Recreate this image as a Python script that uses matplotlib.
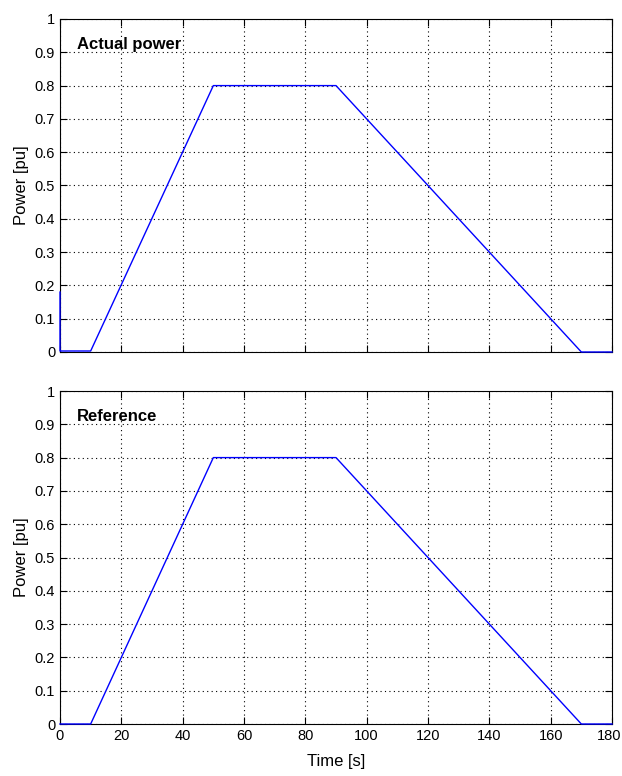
import matplotlib.pyplot as plt
import matplotlib.transforms as mtransforms

# data
t_actual = [0, 0, 0.3, 10, 50, 90, 170, 180]
p_actual = [0.18, 0.003, 0.003, 0.003, 0.8, 0.8, 0.0, 0.0]
t_ref = [0, 10, 50, 90, 170, 180]
p_ref = [0, 0, 0.8, 0.8, 0, 0]

xticks = list(range(0, 181, 20))
yticks = [i / 10 for i in range(11)]
yticklabels = ['0', '0.1', '0.2', '0.3', '0.4', '0.5', '0.6', '0.7', '0.8', '0.9', '1']

plt.rcParams['font.family'] = ['Liberation Sans', 'DejaVu Sans']

fig = plt.figure(figsize=(6.22, 7.76), dpi=100)
ax1 = fig.add_axes([60 / 622, 1 - 352 / 776, 552 / 622, 333 / 776])
ax2 = fig.add_axes([60 / 622, 1 - 724 / 776, 552 / 622, 333 / 776])

for ax, t, p, name in [(ax1, t_actual, p_actual, 'Actual power'), (ax2, t_ref, p_ref, 'Reference')]:
    ax.plot(t, p, color='#0000ff', linewidth=1.0, zorder=3, clip_on=False)
    ax.set_xlim(0, 180)
    ax.set_ylim(0, 1)
    ax.set_xticks(xticks)
    ax.set_yticks(yticks)
    ax.set_yticklabels(yticklabels)
    ax.grid(True, color='black', linestyle=(0, (1, 3)), linewidth=0.8)
    ax.tick_params(direction='in', length=5, labelsize=10.5, top=True, right=True)
    ax.set_ylabel('Power [pu]', fontsize=12)
    ax.text(0.03, 0.945, name, transform=ax.transAxes, fontsize=12, fontweight='bold',
            va='top', ha='left')
    for s in ax.spines.values():
        s.set_linewidth(0.8)

ax1.set_xticklabels([])
ax2.set_xlabel('Time [s]', fontsize=12, labelpad=8)

# keep the last tick label inside the figure
last = ax2.get_xticklabels()[-1]
last.set_transform(last.get_transform() + mtransforms.ScaledTranslation(-3 / 100, 0, fig.dpi_scale_trans))

fig.savefig('out.png', dpi=100)
